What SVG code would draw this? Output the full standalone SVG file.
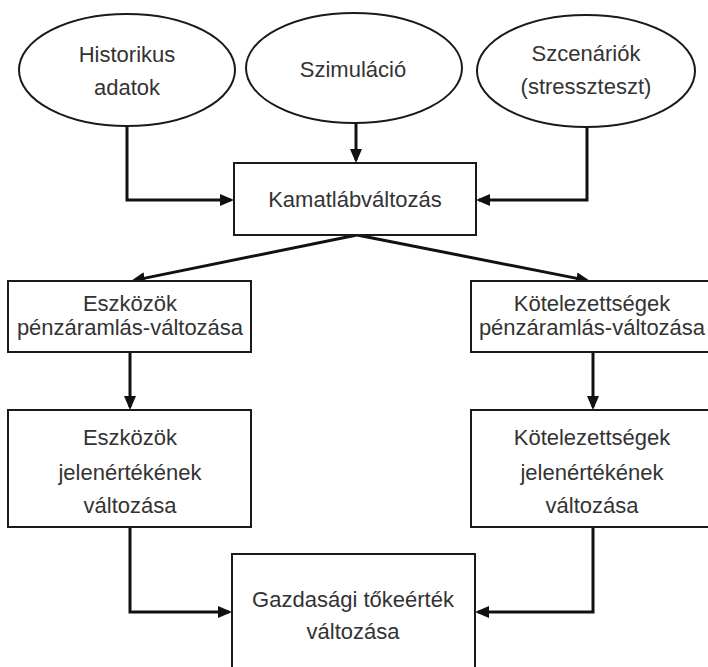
<svg xmlns="http://www.w3.org/2000/svg" width="708" height="667" viewBox="0 0 708 667">
<defs>
<style>
.node { fill: #ffffff; stroke: #1a1a1a; stroke-width: 2; }
.lbl { font-family: "Liberation Sans", Arial, sans-serif; font-size: 22px; fill: #333333; text-anchor: middle; }
.conn { fill: none; stroke: #111111; stroke-width: 3; marker-end: url(#arrow); }
</style>
<marker id="arrow" markerUnits="userSpaceOnUse" markerWidth="14" markerHeight="12" refX="11" refY="6" orient="auto">
<path d="M0,0 L14,6 L0,12 z" fill="#111111"/>
</marker>
</defs>
<rect x="0" y="0" width="708" height="667" fill="#ffffff"/>
<g id="connectors">
<polyline class="conn" points="127,126 127,200 231,200"/>
<polyline class="conn" points="356,123 356,160"/>
<polyline class="conn" points="587,127 587,200 479,200"/>
<line class="conn" x1="357" y1="235" x2="133.9" y2="280.4"/>
<line class="conn" x1="357" y1="235" x2="587.1" y2="280.4"/>
<polyline class="conn" points="130,352 130,407"/>
<polyline class="conn" points="593,352 593,407"/>
<polyline class="conn" points="130,527 130,612 229,612"/>
<polyline class="conn" points="593,527 593,612 478,612"/>
</g>
<g id="historikus">
<ellipse class="node" cx="127" cy="70" rx="108" ry="56"/>
<text class="lbl" x="127" y="62">Historikus</text>
<text class="lbl" x="127" y="95">adatok</text>
</g>
<g id="szimulacio">
<ellipse class="node" cx="354" cy="68" rx="108" ry="55"/>
<text class="lbl" x="353" y="77">Szimuláció</text>
</g>
<g id="szcenariok">
<ellipse class="node" cx="586" cy="71" rx="109" ry="56"/>
<text class="lbl" x="586" y="61">Szcenáriók</text>
<text class="lbl" x="586" y="94">(stresszteszt)</text>
</g>
<g id="kamatlab">
<rect class="node" x="234" y="163" width="242" height="72"/>
<text class="lbl" x="355" y="207">Kamatlábváltozás</text>
</g>
<g id="eszk-penz">
<rect class="node" x="8" y="281" width="243" height="71"/>
<text class="lbl" x="130" y="311">Eszközök</text>
<text class="lbl" x="130" y="335">pénzáramlás-változása</text>
</g>
<g id="kot-penz">
<rect class="node" x="471" y="281" width="243" height="71"/>
<text class="lbl" x="592" y="311">Kötelezettségek</text>
<text class="lbl" x="592" y="335">pénzáramlás-változása</text>
</g>
<g id="eszk-jelen">
<rect class="node" x="8" y="410" width="243" height="117"/>
<text class="lbl" x="130" y="445">Eszközök</text>
<text class="lbl" x="130" y="480">jelenértékének</text>
<text class="lbl" x="130" y="513">változása</text>
</g>
<g id="kot-jelen">
<rect class="node" x="471" y="410" width="243" height="117"/>
<text class="lbl" x="592" y="445">Kötelezettségek</text>
<text class="lbl" x="592" y="480">jelenértékének</text>
<text class="lbl" x="592" y="513">változása</text>
</g>
<g id="gazdasagi">
<rect class="node" x="232" y="554" width="243" height="125"/>
<text class="lbl" x="353" y="607">Gazdasági tőkeérték</text>
<text class="lbl" x="353" y="639">változása</text>
</g>
</svg>
